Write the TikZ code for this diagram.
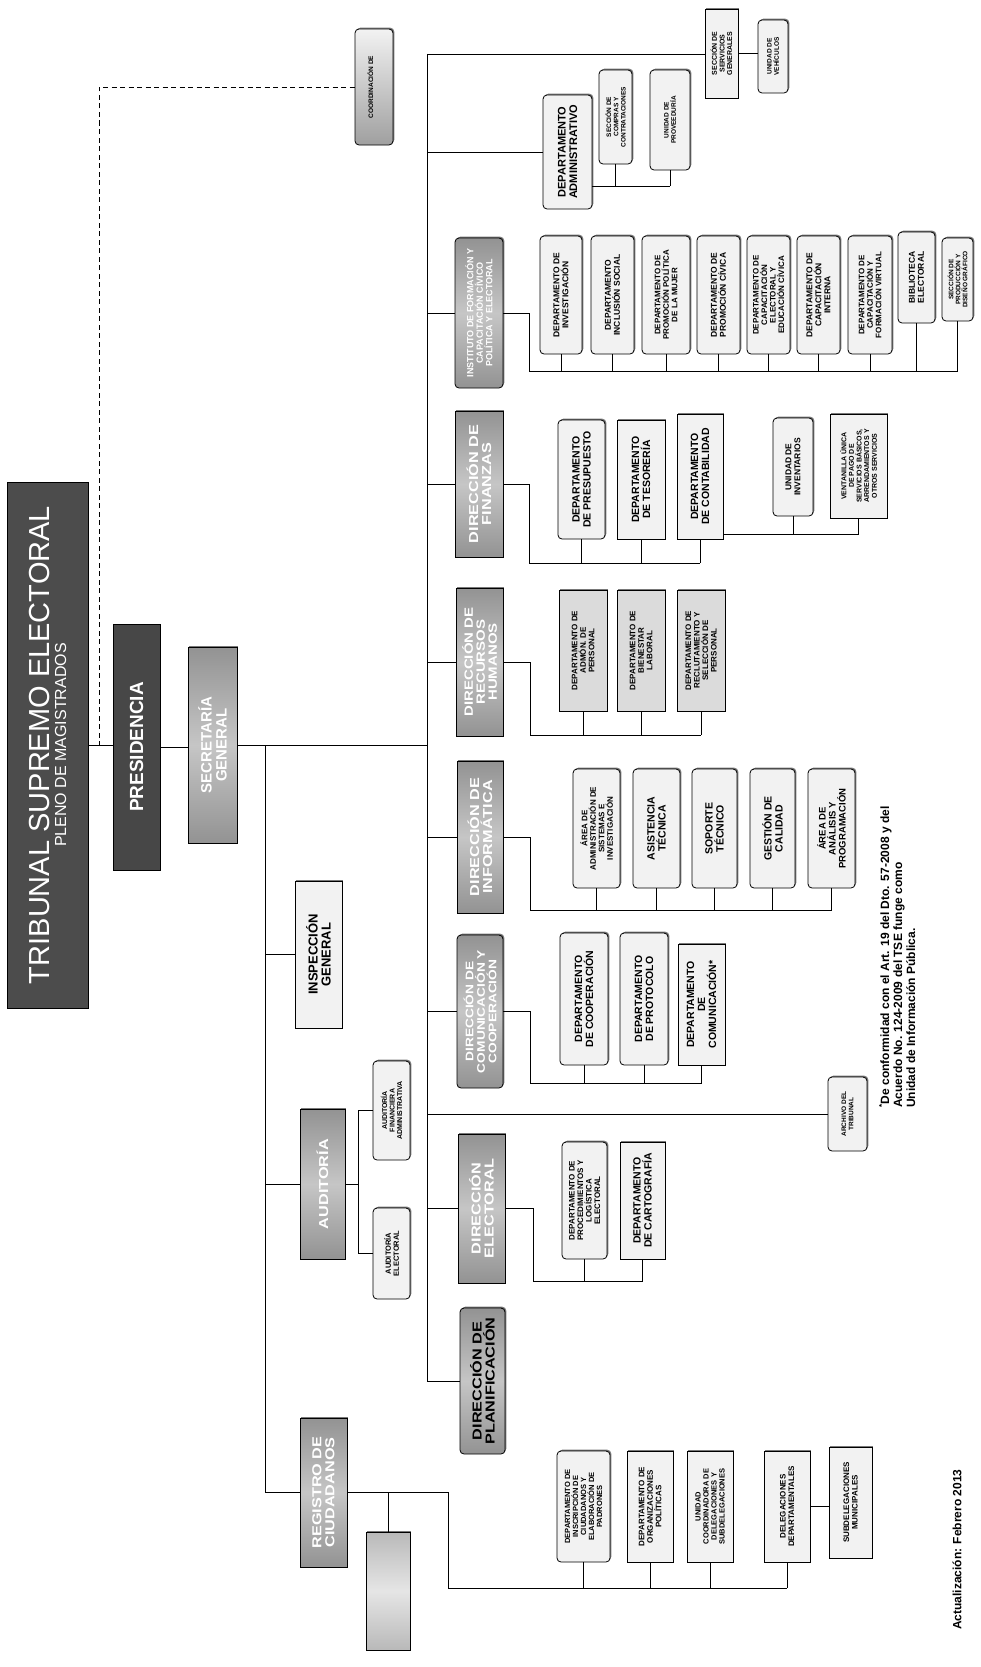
\documentclass[tikz,border=0pt]{standalone}
\usepackage{fontspec}
\setmainfont{Liberation Sans}
\newfontfamily\widefont{Liberation Sans}[FakeStretch=1.25]
\usetikzlibrary{shadows}
\newcommand{\myfs}[2]{\fontsize{#1}{#2}\selectfont}
\newcommand{\bx}[7]{\node[#6, rotate=90, minimum width={(#5-#3)*1pt}, minimum height={(#4-#2)*1pt}] (#1) at ({(#2+#4)/2},{(#3+#5)/2}) {#7};}
\tikzset{
 con/.style={draw=black, line width=0.9pt},
 bxb/.style={draw=black, line width=0.8pt, align=center, inner sep=0pt, text=black},
 sh/.style={drop shadow={shadow xshift=1.3pt, shadow yshift=1.3pt, fill=black!75, opacity=0.7}},
 lite/.style={bxb, sh, fill=gray!10},
 midf/.style={bxb, sh, fill=gray!28},
 rnd/.style={rounded corners=4pt},
 darkdir/.style={bxb, sh, top color=gray!85, bottom color=gray!85, middle color=gray!45, text=white},
 fb/.style 2 args={font=\bfseries\fontsize{#1}{#2}\selectfont},
 fw/.style 2 args={font=\widefont\bfseries\fontsize{#1}{#2}\selectfont},
}
\begin{document}
\begin{tikzpicture}[x=1pt,y=-1pt]
\fill[white] (0,0) rectangle (980,1667);
\useasboundingbox (0,0) rectangle (980,1667);

% top levels
\bx{T}{7}{482}{88}{1008}{bxb, fill=black!70, text=white, font=\myfs{29}{30}}{TRIBUNAL SUPREMO ELECTORAL\\[-13pt]{\myfs{16}{17}PLENO DE MAGISTRADOS}}
\bx{P}{113}{624}{160}{870}{bxb, fill=black!72, text=white, fb={19}{20}}{PRESIDENCIA}
\bx{S}{188}{647}{237}{843}{darkdir, fb={15}{15}}{SECRETARÍA\\GENERAL}
\bx{C}{355}{29}{393}{145}{bxb, sh, rnd, top color=gray!10, bottom color=gray!75, fb={6.5}{7.5}}{COORDINACIÓN DE\\\phantom{X}}

% left branch
\bx{IG}{295}{881}{342}{1028}{lite, fb={13}{13}}{INSPECCIÓN\\GENERAL}
\bx{AU}{300}{1109}{345}{1259}{darkdir, fw={13}{13}}{AUDITORÍA}
\bx{AF}{373}{1061}{410}{1160}{lite, rnd, fb={7}{7.5}}{AUDITORÍA\\FINANCIERA\\ADMINISTRATIVA}
\bx{AE}{373}{1208}{410}{1299}{lite, rnd, fb={7.5}{8}}{AUDITORÍA\\ELECTORAL}
\bx{RC}{300}{1418}{347}{1567}{darkdir, fw={13}{13}}{REGISTRO DE\\CIUDADANOS}
\bx{EB}{366}{1532}{410}{1650}{bxb, sh, top color=gray!55, bottom color=gray!55, middle color=gray!20}{}

% directorates
\bx{I}{455}{238}{503}{388}{darkdir, rnd, fb={9}{9.5}}{INSTITUTO DE FORMACIÓN Y\\CAPACITACIÓN CÍVICO\\POLÍTICA Y ELECTORAL}
\bx{F}{455}{411}{503}{557}{darkdir, fw={13}{13}}{DIRECCIÓN DE\\FINANZAS}
\bx{R}{456}{588}{503}{736}{darkdir, fw={12}{12}}{DIRECCIÓN DE\\RECURSOS\\HUMANOS}
\bx{N}{457}{761}{503}{913}{darkdir, fw={13}{13}}{DIRECCIÓN DE\\INFORMÁTICA}
\bx{M}{457}{935}{503}{1088}{darkdir, rnd, fw={11}{11.5}}{DIRECCIÓN DE\\COMUNICACIÓN Y\\COOPERACIÓN}
\bx{E}{458}{1134}{505}{1283}{darkdir, fw={13}{13}}{DIRECCIÓN\\ELECTORAL}
\bx{PL}{460}{1308}{505}{1454}{darkdir, rnd, text=black, fw={13}{13}}{DIRECCIÓN DE\\PLANIFICACIÓN}

% administrative
\bx{DA}{543}{95}{592}{209}{lite, rnd, fb={11}{11.5}}{DEPARTAMENTO\\ADMINISTRATIVO}
\bx{SC}{599}{70}{632}{164}{lite, rnd, fb={6.5}{7.2}}{SECCIÓN DE\\COMPRAS Y\\CONTRATACIONES}
\bx{UP}{650}{70}{690}{170}{lite, rnd, fb={6.5}{7.2}}{UNIDAD DE\\PROVEEDURÍA}
\bx{SG}{705}{9}{738}{98}{lite, fb={7}{7.6}}{SECCIÓN DE\\SERVICIOS\\GENERALES}
\bx{V}{758}{20}{788}{93}{lite, rnd, fb={6.5}{7.2}}{UNIDAD DE\\VEHÍCULOS}

% instituto children
\bx{I1}{540}{236}{582}{354}{lite, rnd, fb={8.5}{9}}{DEPARTAMENTO DE\\INVESTIGACIÓN}
\bx{I2}{591}{236}{634}{354}{lite, rnd, fb={8.5}{9}}{DEPARTAMENTO\\INCLUSIÓN SOCIAL}
\bx{I3}{642}{236}{690}{354}{lite, rnd, fb={8}{8.5}}{DEPARTAMENTO DE\\PROMOCIÓN POLÍTICA\\DE LA MUJER}
\bx{I4}{697}{236}{740}{354}{lite, rnd, fb={8.5}{9}}{DEPARTAMENTO DE\\PROMOCIÓN CÍVICA}
\bx{I5}{747}{236}{790}{354}{lite, rnd, fb={8}{8.5}}{DEPARTAMENTO DE\\CAPACITACIÓN\\ELECTORAL Y\\EDUCACIÓN CÍVICA}
\bx{I6}{797}{236}{840}{354}{lite, rnd, fb={8.5}{9}}{DEPARTAMENTO DE\\CAPACITACIÓN\\INTERNA}
\bx{I7}{848}{236}{892}{354}{lite, rnd, fb={8}{8.5}}{DEPARTAMENTO DE\\CAPACITACIÓN Y\\FORMACIÓN VIRTUAL}
\bx{I8}{898}{232}{935}{323}{lite, rnd, fb={8.5}{9}}{BIBLIOTECA\\ELECTORAL}
\bx{I9}{942}{238}{973}{321}{lite, rnd, fb={6.5}{7}}{SECCIÓN DE\\PRODUCCIÓN Y\\DISEÑO GRÁFICO}

% finanzas children
\bx{F1}{558}{420}{605}{539}{lite, rnd, fb={10.5}{11}}{DEPARTAMENTO\\DE PRESUPUESTO}
\bx{F2}{617}{420}{665}{539}{lite, fb={10.5}{11}}{DEPARTAMENTO\\DE TESORERÍA}
\bx{F3}{677}{414}{723}{539}{lite, fb={10.5}{11}}{DEPARTAMENTO\\DE CONTABILIDAD}
\bx{UI}{773}{418}{813}{516}{lite, rnd, fb={8.5}{9}}{UNIDAD DE\\INVENTARIOS}
\bx{VU}{830}{414}{887}{518}{lite, fb={7}{7.6}}{VENTANILLA ÚNICA\\DE PAGO DE\\SERVICIOS BÁSICOS,\\ARRENDAMIENTOS Y\\OTROS SERVICIOS}

% rrhh children
\bx{R1}{559}{590}{607}{711}{midf, fb={8}{8.5}}{DEPARTAMENTO DE\\ADMÓN. DE\\PERSONAL}
\bx{R2}{617}{590}{665}{711}{midf, fb={8}{8.5}}{DEPARTAMENTO DE\\BIENESTAR\\LABORAL}
\bx{R3}{677}{590}{725}{711}{midf, fb={8}{8.5}}{DEPARTAMENTO DE\\RECLUTAMIENTO Y\\SELECCIÓN DE\\PERSONAL}

% informatica children
\bx{N1}{573}{769}{620}{888}{lite, rnd, fb={8}{8.5}}{ÁREA DE\\ADMINISTRACIÓN DE\\SISTEMAS E\\INVESTIGACIÓN}
\bx{N2}{633}{769}{680}{888}{lite, rnd, fb={10.5}{11}}{ASISTENCIA\\TÉCNICA}
\bx{N3}{692}{769}{737}{888}{lite, rnd, fb={10.5}{11}}{SOPORTE\\TÉCNICO}
\bx{N4}{750}{769}{795}{888}{lite, rnd, fb={10.5}{11}}{GESTIÓN DE\\CALIDAD}
\bx{N5}{808}{769}{855}{888}{lite, rnd, fb={9.5}{10}}{ÁREA DE\\ANÁLISIS Y\\PROGRAMACIÓN}

% comunicacion children
\bx{M1}{560}{933}{608}{1065}{lite, rnd, fb={10.5}{11}}{DEPARTAMENTO\\DE COOPERACIÓN}
\bx{M2}{620}{933}{668}{1065}{lite, rnd, fb={10.5}{11}}{DEPARTAMENTO\\DE PROTOCOLO}
\bx{M3}{678}{944}{725}{1065}{lite, fb={10.5}{11}}{DEPARTAMENTO\\DE\\COMUNICACIÓN*}
\bx{A}{828}{1077}{867}{1151}{lite, rnd, fb={6.5}{7.2}}{ARCHIVO DEL\\TRIBUNAL}

% electoral children
\bx{E1}{562}{1142}{607}{1259}{lite, rnd, fb={8}{8.5}}{DEPARTAMENTO DE\\PROCEDIMIENTOS Y\\LOGÍSTICA\\ELECTORAL}
\bx{E2}{620}{1142}{665}{1259}{lite, fb={10.5}{11}}{DEPARTAMENTO\\DE CARTOGRAFÍA}

% registro children
\bx{G1}{557}{1451}{610}{1562}{lite, rnd, fb={7.5}{8}}{DEPARTAMENTO DE\\INSCRIPCIÓN DE\\CIUDADANOS Y\\ELABORACIÓN DE\\PADRONES}
\bx{G2}{627}{1451}{673}{1562}{lite, fb={8}{8.5}}{DEPARTAMENTO DE\\ORGANIZACIONES\\POLÍTICAS}
\bx{G3}{687}{1451}{733}{1562}{lite, fb={7.5}{8}}{UNIDAD\\COORDINADORA DE\\DELEGACIONES Y\\SUBDELEGACIONES}
\bx{G4}{764}{1451}{810}{1562}{lite, fb={8}{8.5}}{DELEGACIONES\\DEPARTAMENTALES}
\bx{G5}{829}{1447}{872}{1558}{lite, fb={8}{8.5}}{SUBDELEGACIONES\\MUNICIPALES}

% notes
\node[rotate=90, anchor=north west, align=left, inner sep=0pt, fb={12}{13}] (note) at (879,1108)
  {\textsuperscript{*}De conformidad con el Art. 19 del Dto. 57-2008 y del\\Acuerdo No. 124-2009 del TSE funge como\\Unidad de Información Pública.};
\node[rotate=90, anchor=west, inner sep=0pt, fb={12}{13}] (upd) at (957,1630) {Actualización: Febrero 2013};

% ---------- connectors ----------
\coordinate (busTop) at (427,54);
\coordinate (lbTop) at (265,746);
\coordinate (dA) at (99,746);

\draw[con] (T.south) -- (T.south -| P.north);
\draw[con] (P.south) -- (P.south -| S.north);
\draw[con] (S.south) -- (S.south -| busTop);
\draw[con, dash pattern=on 5pt off 3.5pt] (dA) |- (C.north);

\draw[con] (busTop) -- (busTop |- PL.north);
\draw[con] (busTop) -- (busTop -| SG.north);
\draw[con] (SG.south) -- (SG.south -| V.north);
\foreach \n in {DA,I,F,R,N,M,A,E,PL} \draw[con] (busTop |- \n.north) -- (\n.north);

\draw[con] (lbTop) -- (lbTop |- RC.north);
\foreach \n in {IG,AU,RC} \draw[con] (lbTop |- \n.north) -- (\n.north);

% administrativo
\coordinate (daL) at (592,186);
\draw[con] (daL) -- (daL -| UP.west);
\foreach \n in {SC,UP} \draw[con] (\n.west) -- (\n.west |- daL);

% instituto
\coordinate (Il) at (529,371);
\draw[con] (I.south) -| (Il) -- (Il -| I9.west);
\foreach \n in {I1,I2,I3,I4,I5,I6,I7,I8,I9} \draw[con] (\n.west) -- (\n.west |- Il);

% finanzas
\coordinate (Fl) at (529,563);
\draw[con] (F.south) -| (Fl) -- (Fl -| F3.west);
\foreach \n in {F1,F2,F3} \draw[con] (\n.west) -- (\n.west |- Fl);
\coordinate (f3L) at (723,534);
\draw[con] (f3L) -- (f3L -| VU.west);
\foreach \n in {UI,VU} \draw[con] (\n.west) -- (\n.west |- f3L);

% rrhh
\coordinate (Rl) at (530,735);
\draw[con] (R.south) -| (Rl) -- (Rl -| R3.west);
\foreach \n in {R1,R2,R3} \draw[con] (\n.west) -- (\n.west |- Rl);

% informatica
\coordinate (Nl) at (530,910);
\draw[con] (N.south) -| (Nl) -- (Nl -| N5.west);
\foreach \n in {N1,N2,N3,N4,N5} \draw[con] (\n.west) -- (\n.west |- Nl);

% comunicacion
\coordinate (Ml) at (530,1083);
\draw[con] (M.south) -| (Ml) -- (Ml -| M3.west);
\foreach \n in {M1,M2,M3} \draw[con] (\n.west) -- (\n.west |- Ml);

% electoral
\coordinate (El) at (533,1281);
\draw[con] (E.south) -| (El) -- (El -| E2.west);
\foreach \n in {E1,E2} \draw[con] (\n.west) -- (\n.west |- El);

% auditoria
\coordinate (auV) at (358,1185);
\draw[con] (AU.south) -- (AU.south -| auV);
\draw[con] (auV |- AF.north) -- (AF.north);
\draw[con] (auV |- AE.north) -- (AE.north);
\draw[con] (auV |- AF.north) -- (auV |- AE.north);

% registro
\coordinate (Gl) at (448,1588);
\draw[con] (RC.south) -| (Gl) -- (Gl -| G4.west);
\foreach \n in {G1,G2,G3,G4} \draw[con] (\n.west) -- (\n.west |- Gl);
\draw[con] (G4.south) -- (G4.south -| G5.north);
\draw[con] (EB.east) -- (EB.east |- RC.south);
\end{tikzpicture}
\end{document}
